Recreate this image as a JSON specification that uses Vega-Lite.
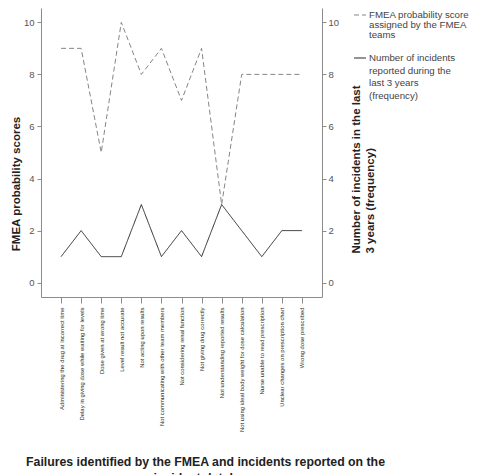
{
  "$schema": "https://vega.github.io/schema/vega-lite/v6.json",
  "width": 281,
  "height": 289,
  "autosize": {"type": "none"},
  "padding": {"left": 41, "top": 8, "right": 158, "bottom": 178},
  "background": "white",
  "config": {
    "view": {"stroke": null},
    "font": "Liberation Sans",
    "axis": {"grid": false, "domainColor": "#8c8c8c", "tickColor": "#8c8c8c", "labelColor": "#555555", "titleColor": "#222222"}
  },
  "data": {
    "values": [
      {"failure": "Administering the drug at incorrect time", "series": "fmea", "value": 9},
      {"failure": "Delay in giving dose while waiting for levels", "series": "fmea", "value": 9},
      {"failure": "Dose given at wrong time", "series": "fmea", "value": 5},
      {"failure": "Level result not accurate", "series": "fmea", "value": 10},
      {"failure": "Not acting upon results", "series": "fmea", "value": 8},
      {"failure": "Not communicating with other team members", "series": "fmea", "value": 9},
      {"failure": "Not considering renal function", "series": "fmea", "value": 7},
      {"failure": "Not giving drug correctly", "series": "fmea", "value": 9},
      {"failure": "Not understanding reported results", "series": "fmea", "value": 3},
      {"failure": "Not using ideal body weight for dose calculation", "series": "fmea", "value": 8},
      {"failure": "Nurse unable to read prescription", "series": "fmea", "value": 8},
      {"failure": "Unclear changes on prescription chart", "series": "fmea", "value": 8},
      {"failure": "Wrong dose prescribed", "series": "fmea", "value": 8},
      {"failure": "Administering the drug at incorrect time", "series": "incidents", "value": 1},
      {"failure": "Delay in giving dose while waiting for levels", "series": "incidents", "value": 2},
      {"failure": "Dose given at wrong time", "series": "incidents", "value": 1},
      {"failure": "Level result not accurate", "series": "incidents", "value": 1},
      {"failure": "Not acting upon results", "series": "incidents", "value": 3},
      {"failure": "Not communicating with other team members", "series": "incidents", "value": 1},
      {"failure": "Not considering renal function", "series": "incidents", "value": 2},
      {"failure": "Not giving drug correctly", "series": "incidents", "value": 1},
      {"failure": "Not understanding reported results", "series": "incidents", "value": 3},
      {"failure": "Not using ideal body weight for dose calculation", "series": "incidents", "value": 2},
      {"failure": "Nurse unable to read prescription", "series": "incidents", "value": 1},
      {"failure": "Unclear changes on prescription chart", "series": "incidents", "value": 2},
      {"failure": "Wrong dose prescribed", "series": "incidents", "value": 2}
    ]
  },
  "encoding": {
    "x": {
      "field": "failure",
      "type": "nominal",
      "sort": null,
      "scale": {"type": "point", "padding": 1.24},
      "axis": {
        "labelAngle": 270,
        "labelAlign": "right",
        "labelBaseline": "middle",
        "labelFontSize": 5.9,
        "labelColor": "#2a2a2a",
        "labelPadding": 4,
        "labelOverlap": false,
        "labelLimit": 0,
        "tickSize": 6,
        "title": ["Failures identified by the FMEA and incidents reported on the", "incident database"],
        "titleFontSize": 12.3,
        "titleFontWeight": "bold",
        "titleAngle": 0,
        "titleAlign": "center",
        "titleBaseline": "top",
        "titleLineHeight": 16,
        "titleX": 164,
        "titleY": 158.5
      }
    },
    "color": {
      "field": "series",
      "type": "nominal",
      "scale": {"domain": ["fmea", "incidents"], "range": ["#858585", "#2b2b2b"]},
      "legend": {
        "title": null,
        "orient": "none",
        "legendX": 312,
        "legendY": 0,
        "symbolType": "stroke",
        "symbolSize": 144,
        "symbolStrokeWidth": 1.2,
        "labelFontSize": 9.7,
        "labelColor": "#444444",
        "labelOffset": 2,
        "labelLimit": 0,
        "rowPadding": 11,
        "labelExpr": "datum.value == 'fmea' ? ['FMEA probability score', 'assigned by the FMEA', 'teams'] : ['Number of incidents', 'reported during the', 'last 3 years', '(frequency)']",
        "encode": {"labels": {"update": {"lineHeight": {"signal": "datum.value == 'fmea' ? 10 : 12.7"}}}}
      }
    },
    "strokeDash": {
      "field": "series",
      "type": "nominal",
      "scale": {"domain": ["fmea", "incidents"], "range": [[5, 3], [1, 0]]},
      "legend": {
        "title": null,
        "orient": "none",
        "legendX": 312,
        "legendY": 0,
        "symbolType": "stroke",
        "symbolSize": 144,
        "symbolStrokeWidth": 1.2,
        "labelFontSize": 9.7,
        "labelColor": "#444444",
        "labelOffset": 2,
        "labelLimit": 0,
        "rowPadding": 11,
        "labelExpr": "datum.value == 'fmea' ? ['FMEA probability score', 'assigned by the FMEA', 'teams'] : ['Number of incidents', 'reported during the', 'last 3 years', '(frequency)']",
        "encode": {"labels": {"update": {"lineHeight": {"signal": "datum.value == 'fmea' ? 10 : 12.7"}}}}
      }
    }
  },
  "layer": [
    {
      "transform": [{"filter": "datum.series == 'fmea'"}],
      "mark": {"type": "line", "strokeWidth": 1},
      "encoding": {
        "y": {
          "field": "value",
          "type": "quantitative",
          "scale": {"domain": [-0.55, 10.55], "nice": false, "zero": false},
          "axis": {
            "orient": "left",
            "values": [0, 2, 4, 6, 8, 10],
            "tickSize": 4,
            "labelPadding": 3,
            "labelFontSize": 9.5,
            "title": "FMEA probability scores",
            "titleFontSize": 11.5,
            "titleFontWeight": "bold",
            "titleAngle": 270,
            "titleAlign": "center",
            "titleBaseline": "middle",
            "titleX": -24.5,
            "titleY": 175.5
          }
        }
      }
    },
    {
      "transform": [{"filter": "datum.series == 'incidents'"}],
      "mark": {"type": "line", "strokeWidth": 1},
      "encoding": {
        "y": {
          "field": "value",
          "type": "quantitative",
          "scale": {"domain": [-0.55, 10.55], "nice": false, "zero": false},
          "axis": {
            "orient": "right",
            "values": [0, 2, 4, 6, 8, 10],
            "tickSize": 4,
            "labelPadding": 2,
            "labelFontSize": 9.5,
            "title": ["Number of incidents in the last", "3 years (frequency)"],
            "titleFontSize": 11.5,
            "titleFontWeight": "bold",
            "titleAngle": 270,
            "titleAlign": "left",
            "titleBaseline": "top",
            "titleLineHeight": 14.5,
            "titleX": 28,
            "titleY": 245
          }
        }
      }
    }
  ],
  "resolve": {"scale": {"y": "independent"}}
}
